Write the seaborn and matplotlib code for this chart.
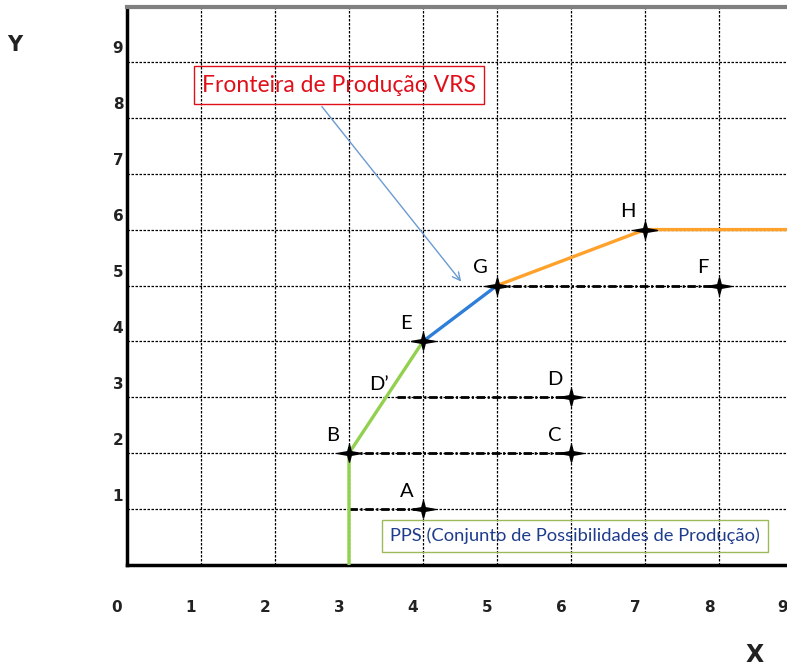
#!/usr/bin/env python3
"""VRS production frontier chart (DEA illustration)."""

import matplotlib
matplotlib.use("Agg")
import matplotlib.pyplot as plt
import matplotlib.transforms as mtransforms
from matplotlib.path import Path
import pandas as pd
import seaborn as sns

sns.set_style("white")
plt.rcParams['font.family'] = ['DejaVu Sans']

# frontier pieces (x, y)
green_x = [3, 3, 4]
green_y = [0, 2, 4]
blue_x = [4, 5]
blue_y = [4, 5]
orange_x = [5, 7, 9]
orange_y = [5, 6, 6]

# observed units
point_names = ['A', 'B', 'C', 'D', 'E', 'G', 'H', 'F']
point_x = [4, 3, 6, 6, 4, 5, 7, 8]
point_y = [1, 2, 2, 3, 4, 5, 6, 5]

# projection lines (dash-dot): x start, x end, y
proj_x0 = [3, 3, 3.65, 5]
proj_x1 = [4, 6, 6, 8]
proj_y = [1, 2, 3, 5]

x_ticks = list(range(0, 10))
y_ticks = list(range(1, 10))

# thin four-armed star, wider than tall
star = Path([(1, 0), (0.15, 0.15), (0, 0.72), (-0.15, 0.15), (-1, 0),
             (-0.15, -0.15), (0, -0.72), (0.15, -0.15), (1, 0)],
            [Path.MOVETO] + [Path.LINETO] * 7 + [Path.CLOSEPOLY])

fig = plt.figure(figsize=(7.87, 6.69), dpi=100)
W, H = 787, 669
ax = fig.add_axes([127 / W, 104 / H, 660 / W, 558 / H])
ax.set_xlim(0, 660 / 74)
ax.set_ylim(0, 558 / 55.9)

# grid
ax.set_xticks(range(1, 9))
ax.set_yticks(y_ticks)
ax.grid(True, color='black', linestyle=(0, (2, 1.2)), linewidth=0.9)
ax.tick_params(length=0, labelbottom=False, labelleft=False)

ax.spines['right'].set_visible(False)
ax.spines['left'].set_linewidth(2.5)
ax.spines['left'].set_color('black')
ax.spines['bottom'].set_linewidth(2.5)
ax.spines['bottom'].set_color('black')
ax.spines['top'].set_linewidth(3)
ax.spines['top'].set_color('#808080')

# projection lines
for x0, x1, y in zip(proj_x0, proj_x1, proj_y):
    ax.plot([x0, x1], [y, y], color='black', linewidth=2,
            linestyle=(0, (3, 1, 0.7, 1)), zorder=3)

# frontier
lw = 2.4
for fx, fy, col in [(green_x, green_y, '#92d050'),
                    (blue_x, blue_y, '#2f7ed8'),
                    (orange_x, orange_y, '#ffa22b')]:
    sns.lineplot(x=fx, y=fy, color=col, linewidth=lw, sort=False,
                 estimator=None, ax=ax, zorder=4)

# points
pts = pd.DataFrame({'name': point_names, 'x': point_x, 'y': point_y})
sns.scatterplot(data=pts, x='x', y='y', marker=star, s=300, color='black',
                edgecolor='black', linewidth=1.0, ax=ax, zorder=5)

for name, x, y in zip(point_names, point_x, point_y):
    ax.annotate(name, (x, y), xytext=(-12, 13), textcoords='offset points',
                ha='center', va='center', fontsize=14.5, fontfamily='Lato',
                color='black', zorder=6)
ax.annotate('D\u2019', (3.65, 3), xytext=(-13, 9), textcoords='offset points',
            ha='center', va='center', fontsize=14.5, fontfamily='Lato',
            color='black', zorder=6)

# tick labels
off_x = mtransforms.ScaledTranslation(-10 / 100, -42 / 100, fig.dpi_scale_trans)
for i in x_ticks:
    ax.text(i, 0, str(i), transform=ax.transData + off_x, ha='center',
            va='center', fontsize=11, fontweight='bold', color='#222222',
            clip_on=False)
off_y = mtransforms.ScaledTranslation(-9 / 100, 13 / 100, fig.dpi_scale_trans)
for j in y_ticks:
    ax.text(0, j, str(j), transform=ax.transData + off_y, ha='center',
            va='center', fontsize=11, fontweight='bold', color='#222222',
            clip_on=False)

fig.text(15 / W, 1 - 45 / H, 'Y', ha='center', va='center', fontsize=15,
         fontweight='bold', color='#222222')
fig.text(755 / W, 1 - 655 / H, 'X', ha='center', va='center', fontsize=17,
         fontweight='bold', color='#222222')

# frontier annotation
ax.annotate('', xy=(4.54, 5.03), xytext=(2.61, 8.24),
            arrowprops=dict(arrowstyle='->', color='#6a9bd1', lw=1,
                            mutation_scale=14), zorder=6)
ax.text((339 - 127) / 74, (565 - 85) / 55.9,
        'Fronteira de Produção VRS', ha='center', va='center', fontsize=16.5,
        fontfamily='Lato', color='#e0101a', zorder=7,
        bbox=dict(boxstyle='square,pad=0.35', facecolor='none',
                  edgecolor='#e0101a', linewidth=1))

# PPS box
ax.text((575 - 127) / 74, (565 - 536) / 55.9,
        'PPS (Conjunto de Possibilidades de Produção)', ha='center',
        va='center', fontsize=13.2, fontfamily='Lato', color='#1f3c8c',
        zorder=7,
        bbox=dict(boxstyle='square,pad=0.42', facecolor='none',
                  edgecolor='#9bbb59', linewidth=1))

fig.savefig('out.png', dpi=100, facecolor='white')
